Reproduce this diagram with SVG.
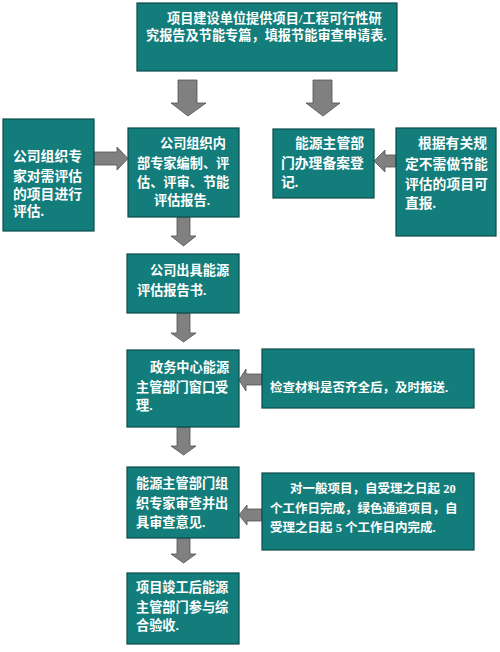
<svg xmlns="http://www.w3.org/2000/svg" width="500" height="652" viewBox="0 0 500 652">
<style>
.box{fill:#137d7b;stroke:#0b4a48;stroke-width:1.2}
.arr{fill:#808080;stroke:#505050;stroke-width:0.8}
text{fill:#ffffff;font-family:"Liberation Serif","Noto Sans CJK SC","Noto Sans CJK TC",serif;font-weight:bold;font-size:13.2px}
.big{font-size:13.8px}
.sm{font-size:12.5px}
</style>
<rect width="500" height="652" fill="#ffffff"/>
<g id="connectors">
<polygon class="arr" points="178,80 197,80 197,103 206,103 188,116 171,103 178,103"/>
<polygon class="arr" points="313,80 332,80 332,103 340,103 323,116 306,103 313,103"/>
<polygon class="arr" points="94,152 117,152 117,147 128,158.5 117,170 117,165 94,165"/>
<polygon class="arr" points="396,155 385,155 385,150 374,161 385,172 385,167 396,167"/>
<polygon class="arr" points="177,217 190,217 190,236 196,236 183.5,246 171,236 177,236"/>
<polygon class="arr" points="177,313 190,313 190,333 196,333 183.5,342 171,333 177,333"/>
<polygon class="arr" points="262,374 246,374 246,369 239,380 246,391 246,385 262,385"/>
<polygon class="arr" points="177,427 190,427 190,446 196,446 183.5,455 171,446 177,446"/>
<polygon class="arr" points="262,509 247,509 247,505 239,515 247,525 247,521 262,521"/>
<polygon class="arr" points="177,538 190,538 190,554 196,554 183.5,563 171,554 177,554"/>
</g>
<g id="n-top">
<rect class="box" x="137" y="3" width="260" height="68"/>
<text x="167" y="23">项目建设单位提供项目/工程可行性研</text>
<text x="146" y="40">究报告及节能专篇，填报节能审查申请表.</text>
</g>
<g id="n-left">
<rect class="box" x="3" y="119" width="91" height="112"/>
<text class="big" x="13" y="160.5">公司组织专</text>
<text class="big" x="13" y="180.5">家对需评估</text>
<text class="big" x="13" y="199">的项目进行</text>
<text class="big" x="13" y="215.5">评估.</text>
</g>
<g id="n-internal">
<rect class="box" x="128" y="128" width="111" height="89"/>
<text x="160" y="148">公司组织内</text>
<text x="137" y="168">部专家编制、评</text>
<text x="137" y="187">估、评审、节能</text>
<text x="154" y="205">评估报告.</text>
</g>
<g id="n-record">
<rect class="box" x="273" y="129" width="101" height="69"/>
<text class="big" x="295" y="148">能源主管部</text>
<text class="big" x="281" y="168">门办理备案登</text>
<text class="big" x="281" y="187">记.</text>
</g>
<g id="n-direct">
<rect class="box" x="396" y="128" width="100" height="108"/>
<text class="big" x="418" y="148">根据有关规</text>
<text class="big" x="405" y="169">定不需做节能</text>
<text class="big" x="405" y="189">评估的项目可</text>
<text class="big" x="405" y="208">直报.</text>
</g>
<g id="n-report">
<rect class="box" x="127" y="254" width="112" height="59"/>
<text x="150" y="275">公司出具能源</text>
<text x="137" y="295">评估报告书.</text>
</g>
<g id="n-window">
<rect class="box" x="127" y="350" width="112" height="77"/>
<text x="150" y="372">政务中心能源</text>
<text x="136" y="392">主管部门窗口受</text>
<text x="136" y="410">理.</text>
</g>
<g id="n-check">
<rect class="box" x="262" y="349" width="212" height="59"/>
<text class="sm" x="270" y="392">检查材料是否齐全后，及时报送.</text>
</g>
<g id="n-review">
<rect class="box" x="127" y="467" width="112" height="71"/>
<text x="136" y="488">能源主管部门组</text>
<text x="136" y="508">织专家审查并出</text>
<text x="136" y="527">具审查意见.</text>
</g>
<g id="n-time">
<rect class="box" x="262" y="473" width="212" height="77"/>
<text class="sm" x="290" y="493">对一般项目，自受理之日起 20</text>
<text class="sm" x="270" y="513">个工作日完成，绿色通道项目，自</text>
<text class="sm" x="270" y="532">受理之日起 5 个工作日内完成.</text>
</g>
<g id="n-final">
<rect class="box" x="127" y="573" width="112" height="71"/>
<text x="136" y="592">项目竣工后能源</text>
<text x="136" y="612">主管部门参与综</text>
<text x="136" y="630">合验收.</text>
</g>
</svg>
